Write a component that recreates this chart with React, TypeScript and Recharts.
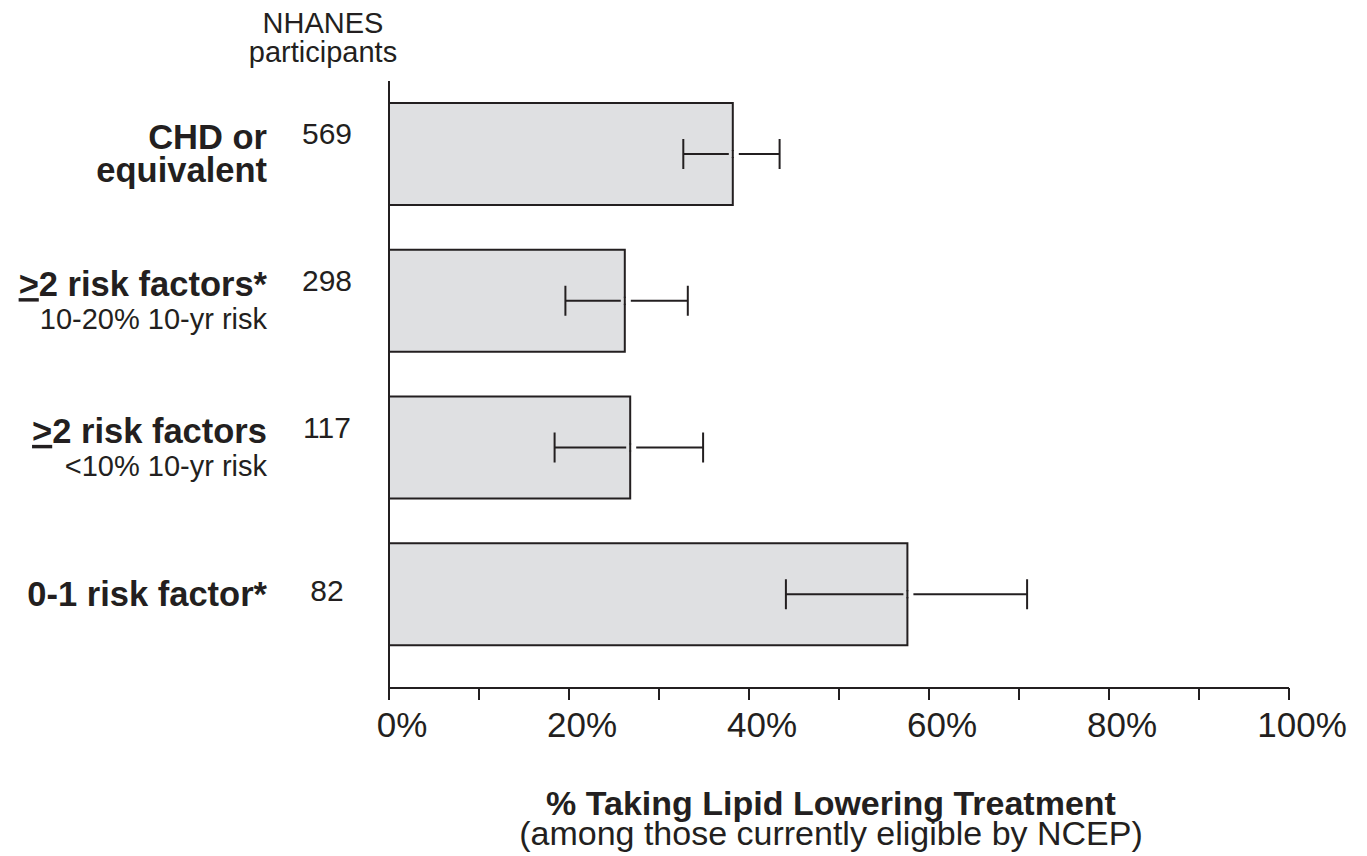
import React from 'react'
import { BarChart, Bar, XAxis, YAxis, ErrorBar, LabelList } from 'recharts'

const labelLine1 = ['CHD or', '>2 risk factors*', '>2 risk factors', '0-1 risk factor*']
const labelLine2 = ['equivalent', '10-20% 10-yr risk', '<10% 10-yr risk', '']
const line2Bold = [true, false, false, false]
const participants = [569, 298, 117, 82]
const pctTreated = [38.2, 26.2, 26.8, 57.6]
const ciLow = [32.7, 19.6, 18.4, 44.1]
const ciHigh = [43.4, 33.2, 34.9, 70.9]
const xTicks = [0, 10, 20, 30, 40, 50, 60, 70, 80, 90, 100]

const INK = '#231f20'
const BAR_FILL = '#dfe0e2'
const FONT = '"Liberation Sans", Arial, Helvetica, sans-serif'

const data = labelLine1.map((l1, i) => ({
  name: `${l1} ${labelLine2[i]}`.trim(),
  idx: i,
  pct: pctTreated[i],
  err: [pctTreated[i] - ciLow[i], ciHigh[i] - pctTreated[i]],
}))

// first line: '>' at the start is drawn underlined (≥)
const Line1 = ({ text }: { text: string }) => {
  if (text.startsWith('>')) {
    return (
      <>
        <tspan style={{ textDecoration: 'underline' }}>&gt;</tspan>
        <tspan>{text.slice(1)}</tspan>
      </>
    )
  }
  return <>{text}</>
}

const CategoryTick = (props: any) => {
  const { y, payload } = props
  const i = data.findIndex((d) => d.name === payload.value)
  if (i < 0) return null
  const twoLines = labelLine2[i] !== ''
  const base1 = twoLines ? y - 5 : y + 11
  return (
    <g fontFamily={FONT} fill={INK}>
      <text x={267} y={base1} textAnchor='end' fontSize={34.5} fontWeight='bold'>
        <Line1 text={labelLine1[i]} />
      </text>
      {twoLines && (
        <text
          x={267}
          y={base1 + 33}
          textAnchor='end'
          fontSize={line2Bold[i] ? 34.5 : 29}
          fontWeight={line2Bold[i] ? 'bold' : 'normal'}
        >
          {labelLine2[i]}
        </text>
      )}
      <text x={327} y={base1 - 5} textAnchor='middle' fontSize={30}>
        {participants[i]}
      </text>
    </g>
  )
}

const PctTick = (props: any) => {
  const { x, y, payload } = props
  if (payload.value % 20 !== 0) return null
  return (
    <text
      x={x + 13}
      y={y + 35}
      textAnchor='middle'
      fontFamily={FONT}
      fontSize={35}
      fill={INK}
    >
      {`${payload.value}%`}
    </text>
  )
}

// small break in the error line where it crosses the bar end
const BarEndGap = (props: any) => {
  const vb = props.viewBox ?? props
  const { x, y, width, height } = vb
  if (x == null || width == null) return null
  const end = x + width
  const mid = y + height / 2
  return (
    <g>
      <rect x={end - 4} y={mid - 3} width={4} height={6} fill={BAR_FILL} />
      <rect x={end} y={mid - 3} width={6} height={6} fill='#ffffff' />
      <line x1={end} x2={end} y1={mid - 4} y2={mid + 4} stroke={INK} strokeWidth={2} />
    </g>
  )
}

const AxisTitle = (props: any) => {
  const { viewBox } = props
  const cx = viewBox.x + viewBox.width / 2 - 8
  return (
    <g fontFamily={FONT} fill={INK}>
      <text x={cx} y={viewBox.y + 127} textAnchor='middle' fontSize={34} fontWeight='bold'>
        % Taking Lipid Lowering Treatment
      </text>
      <text x={cx} y={viewBox.y + 157} textAnchor='middle' fontSize={34}>
        (among those currently eligible by NCEP)
      </text>
    </g>
  )
}

const ColumnHeader = (props: any) => {
  const { viewBox } = props
  return (
    <g fontFamily={FONT} fill={INK}>
      <text x={323} y={viewBox.y - 48} textAnchor='middle' fontSize={29}>
        NHANES
      </text>
      <text x={323} y={viewBox.y - 19} textAnchor='middle' fontSize={29}>
        participants
      </text>
    </g>
  )
}

export default function App() {
  return (
    <div style={{ position: 'absolute', left: 0, top: 0, background: '#fff' }}>
      <BarChart
        width={1367}
        height={856}
        data={data}
        layout='vertical'
        margin={{ top: 81, right: 78, bottom: 0, left: 0 }}
        barCategoryGap={0}
      >
        <XAxis
          type='number'
          domain={[0, 100]}
          ticks={xTicks}
          interval={0}
          height={168}
          tickSize={12}
          tickMargin={2}
          axisLine={{ stroke: INK, strokeWidth: 2 }}
          tickLine={{ stroke: INK, strokeWidth: 2 }}
          tick={<PctTick />}
          label={<AxisTitle />}
        />
        <YAxis
          type='category'
          dataKey='name'
          width={389}
          padding={{ top: 0, bottom: 20 }}
          axisLine={{ stroke: INK, strokeWidth: 2 }}
          tickLine={false}
          tick={<CategoryTick />}
          interval={0}
          label={<ColumnHeader />}
        />
        <Bar
          dataKey='pct'
          barSize={102}
          fill={BAR_FILL}
          stroke={INK}
          strokeWidth={2}
          isAnimationActive={false}
        >
          <ErrorBar dataKey='err' direction='x' width={15} stroke={INK} strokeWidth={2} />
          <LabelList dataKey='pct' content={<BarEndGap />} />
        </Bar>
      </BarChart>
    </div>
  )
}
